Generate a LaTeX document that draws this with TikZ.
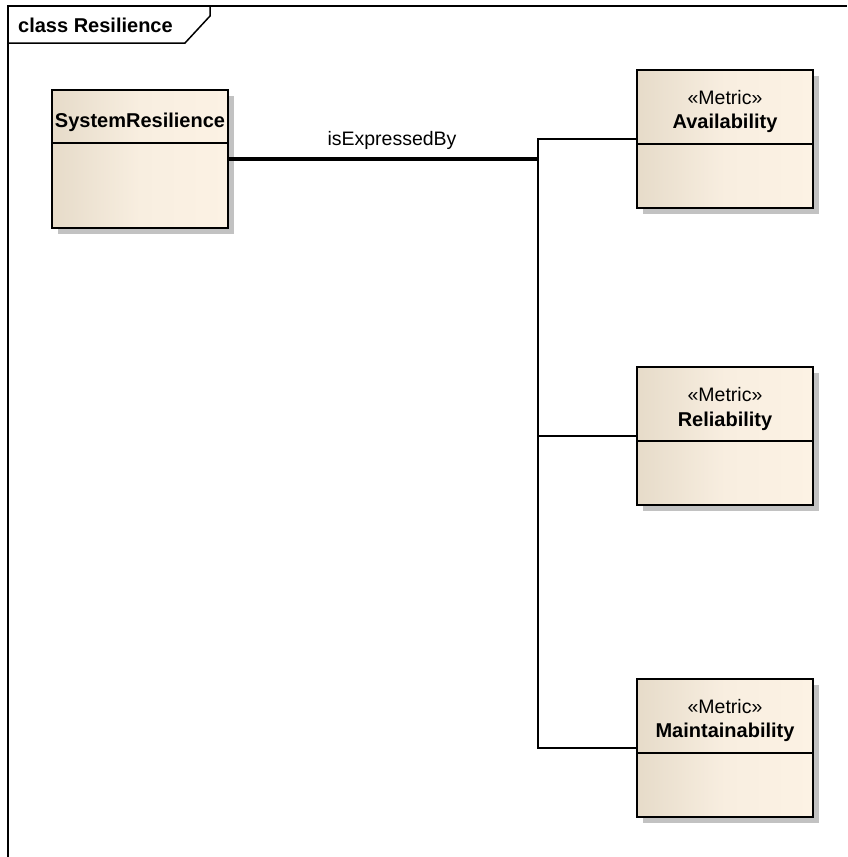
\documentclass[tikz,border=0pt]{standalone}
\usepackage{fontspec}
\setmainfont{Liberation Sans}
\usetikzlibrary{shadows}
\definecolor{boxleft}{HTML}{E6DBC9}
\definecolor{boxmid}{HTML}{F8EEE0}
\definecolor{boxright}{HTML}{FCF2E4}
\definecolor{shadowgrey}{HTML}{C2C2C2}
\tikzset{
  x=1pt, y=-1pt,
  classbox/.style={rectangle, draw=black, line width=2pt,
    left color=boxleft, right color=boxright, middle color=boxmid,
    minimum width=176pt, minimum height=138pt, inner sep=0pt,
    drop shadow={shadow xshift=6pt, shadow yshift=-6pt, opacity=1, fill=shadowgrey}},
  divider/.style={line width=2pt},
  frameline/.style={line width=1.5pt},
  link/.style={line width=2pt},
  strong link/.style={line width=4pt},
  stereo/.style={font=\fontsize{19.5}{23}\selectfont, inner sep=0pt},
  classname/.style={font=\fontsize{20}{24}\selectfont\bfseries, inner sep=0pt},
  label text/.style={font=\fontsize{19.5}{23}\selectfont, inner sep=0pt}
}
\begin{document}
\begin{tikzpicture}
\useasboundingbox (0,0) rectangle (847,857);

% diagram frame with its name tab
\draw[frameline] (8,857) -- (8,6) -- (847,6);
\draw[frameline] (8,43) -- (185,43) -- (210,16) -- (210,6);
\node[classname, anchor=west] (title) at (18,25) {class Resilience};

% classes
\node[classbox] (sys) at (140,159) {};
\draw[divider] (52,143) -- (228,143);
\node[classname] (sysname) at (140,122) {SystemResilience};

\node[classbox] (avail) at (725,139) {};
\draw[divider] (637,144) -- (813,144);
\node[stereo] (availst) at (725,98) {«Metric»};
\node[classname] (availname) at (725,123) {Availability};

\node[classbox] (rel) at (725,436) {};
\draw[divider] (637,441) -- (813,441);
\node[stereo] (relst) at (725,395) {«Metric»};
\node[classname] (relname) at (725,421) {Reliability};

\node[classbox] (maint) at (725,748) {};
\draw[divider] (637,753) -- (813,753);
\node[stereo] (maintst) at (725,707) {«Metric»};
\node[classname] (maintname) at (725,732) {Maintainability};

% isExpressedBy association, branching to the three metrics
\coordinate (bus) at (538,159);
\draw[strong link] (sys.east) -- (bus);
\draw[link] (avail.west) -| (bus);
\draw[link] (rel.west) -| (bus);
\draw[link] (maint.west) -| (bus);
\node[label text] (assoc) at (392,140) {isExpressedBy};
\end{tikzpicture}
\end{document}
